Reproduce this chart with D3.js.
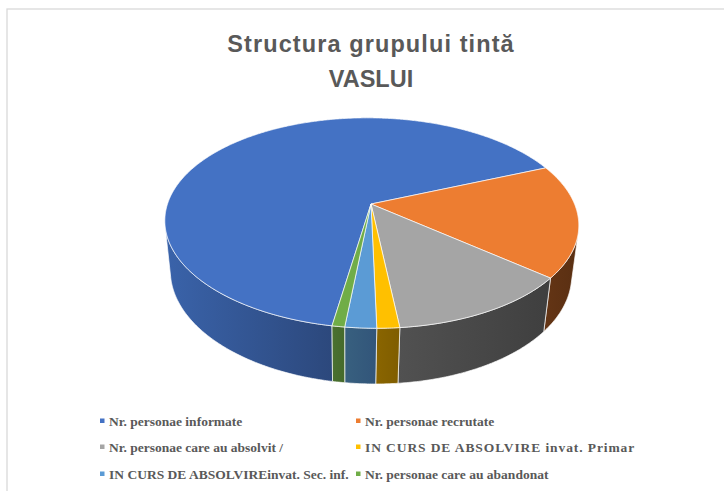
<!DOCTYPE html>
<html>
<head>
<meta charset="utf-8">
<script src="https://cdn.jsdelivr.net/npm/d3@7"></script>
<style>
  html, body { margin: 0; padding: 0; background: #fff; }
  svg { display: block; }
</style>
</head>
<body>
<div id="chart"></div>
<script>
// data
var categories = ["Nr. personae informate",
                  "Nr. personae recrutate",
                  "Nr. personae care au absolvit /",
                  "IN CURS DE ABSOLVIRE invat. Primar",
                  "IN CURS DE ABSOLVIREinvat. Sec. inf.",
                  "Nr. personae care au abandonat"];
var values = [800, 210, 150, 18, 25, 10];
var titleLines = ["Structura grupului tintă", "VASLUI"];

var topColors  = ["#4472c4", "#ed7d31", "#a5a5a5", "#ffc000", "#5b9bd5", "#70ad47"];
var sideLight  = ["#3a63aa", "#643515", "#515151", "#8a6500", "#38607f", "#4a7130"];
var sideDark   = ["#2c487c", "#5a2f12", "#3f3f3f", "#7f5d00", "#32557a", "#456a2b"];

function pieChart(where){
	var w = 724, h = 491;
	var svg = d3.select(where).append("svg")
		.attr("width", w)
		.attr("height", h);

	// chart frame (only top and left edges show)
	svg.append("rect")
		.attr("x", 7).attr("y", 9)
		.attr("width", 760).attr("height", 520)
		.style("fill", "#fff")
		.style("stroke", "#d9d9d9")
		.style("stroke-width", 1.3);

	// title
	svg.selectAll(".title")
		.data(titleLines)
		.enter().append("text")
		.attr("class", "title")
		.attr("x", 371)
		.attr("y", function(d, i){ return 52 + i * 35; })
		.attr("text-anchor", "middle")
		.style("font-family", "'Liberation Sans', Arial, sans-serif")
		.style("font-weight", "bold")
		.style("font-size", "23.5px")
		.style("letter-spacing", function(d, i){ return i == 0 ? "1.1px" : "0px"; })
		.style("fill", "#595959")
		.text(function(d){ return d; });

	// 3d perspective camera
	var sn = 0.5, cs = 0.866, D = 4.785, f = 973.8, T = 0.29, X0 = 0.12;
	var cx = 371, cy = 204;
	var SX = cx - f * X0 / D;

	function proj(a, r, hh){
		var X = r * Math.sin(a) + X0,
		    Z = -r * Math.cos(a),
		    Y = -hh * T;
		var depth = D - Y * sn - Z * cs;
		var camY = Y * cs - Z * sn;
		return [SX + f * X / depth, cy - f * camY / depth];
	}

	function visible(a){
		return -D * cs * Math.cos(a) > 1 + X0 * Math.sin(a);
	}

	var start = 190.3 * Math.PI / 180;
	var pie = d3.pie().sort(null).value(function(d){ return d; })
		.startAngle(start).endAngle(start + 2 * Math.PI);
	var arcs = pie(values);

	var line = d3.line();
	var step = Math.PI / 360;

	function rim(a0, a1, hh){
		var pts = [];
		var n = Math.max(2, Math.ceil((a1 - a0) / step));
		for (var k = 0; k <= n; k++) pts.push(proj(a0 + (a1 - a0) * k / n, 1, hh));
		return pts;
	}

	// visible front range
	var vis = [];
	for (var a = 0; a <= 2 * Math.PI; a += step / 4) {
		if (visible(a)) vis.push(a);
	}
	var v0 = vis[0], v1 = vis[vis.length - 1];

	var defs = svg.append("defs");
	topColors.forEach(function(c, i){
		var g = defs.append("linearGradient")
			.attr("id", "side" + i)
			.attr("x1", 0).attr("x2", 1).attr("y1", 0).attr("y2", 0);
		g.append("stop").attr("offset", 0).attr("stop-color", sideLight[i]);
		g.append("stop").attr("offset", 1).attr("stop-color", sideDark[i]);
	});

	// sides
	var sides = svg.append("g");
	arcs.forEach(function(d, i){
		[0, -2 * Math.PI, 2 * Math.PI].forEach(function(off){
			var a0 = Math.max(d.startAngle + off, v0),
			    a1 = Math.min(d.endAngle + off, v1);
			if (a1 <= a0) return;
			var pts = rim(a0, a1, 0).concat(rim(a0, a1, 1).reverse());
			sides.append("path")
				.attr("d", line(pts) + "Z")
				.style("fill", "url(#side" + i + ")")
				.style("stroke", "#fff")
				.style("stroke-opacity", 0.85)
				.style("stroke-width", 0.8);
		});
	});

	// top faces
	svg.append("g").selectAll("path")
		.data(arcs)
		.enter().append("path")
		.attr("d", function(d){
			var pts = [proj(0, 0, 0)].concat(rim(d.startAngle, d.endAngle, 0));
			return line(pts) + "Z";
		})
		.style("fill", function(d, i){ return topColors[i]; })
		.style("stroke", "#fff")
		.style("stroke-opacity", 0.85)
		.style("stroke-width", 0.8);

	// legend
	var colX = [100, 356], rowY = [421, 447, 474];
	var legend = svg.append("g").selectAll("g")
		.data(categories)
		.enter().append("g")
		.attr("transform", function(d, i){
			return "translate(" + colX[i % 2] + "," + rowY[Math.floor(i / 2)] + ")";
		});
	legend.append("rect")
		.attr("x", 0).attr("y", -2.5)
		.attr("width", 4.5).attr("height", 4.5)
		.style("fill", function(d, i){ return topColors[i]; });
	legend.append("text")
		.attr("x", 9).attr("y", 4.5)
		.style("font-family", "'Liberation Serif', 'Times New Roman', serif")
		.style("font-weight", "bold")
		.style("font-size", "13.5px")
		.style("letter-spacing", function(d, i){ return i == 3 ? "0.9px" : "0px"; })
		.style("fill", "#595959")
		.text(function(d){ return d; });
}

pieChart("#chart");
</script>
</body>
</html>
